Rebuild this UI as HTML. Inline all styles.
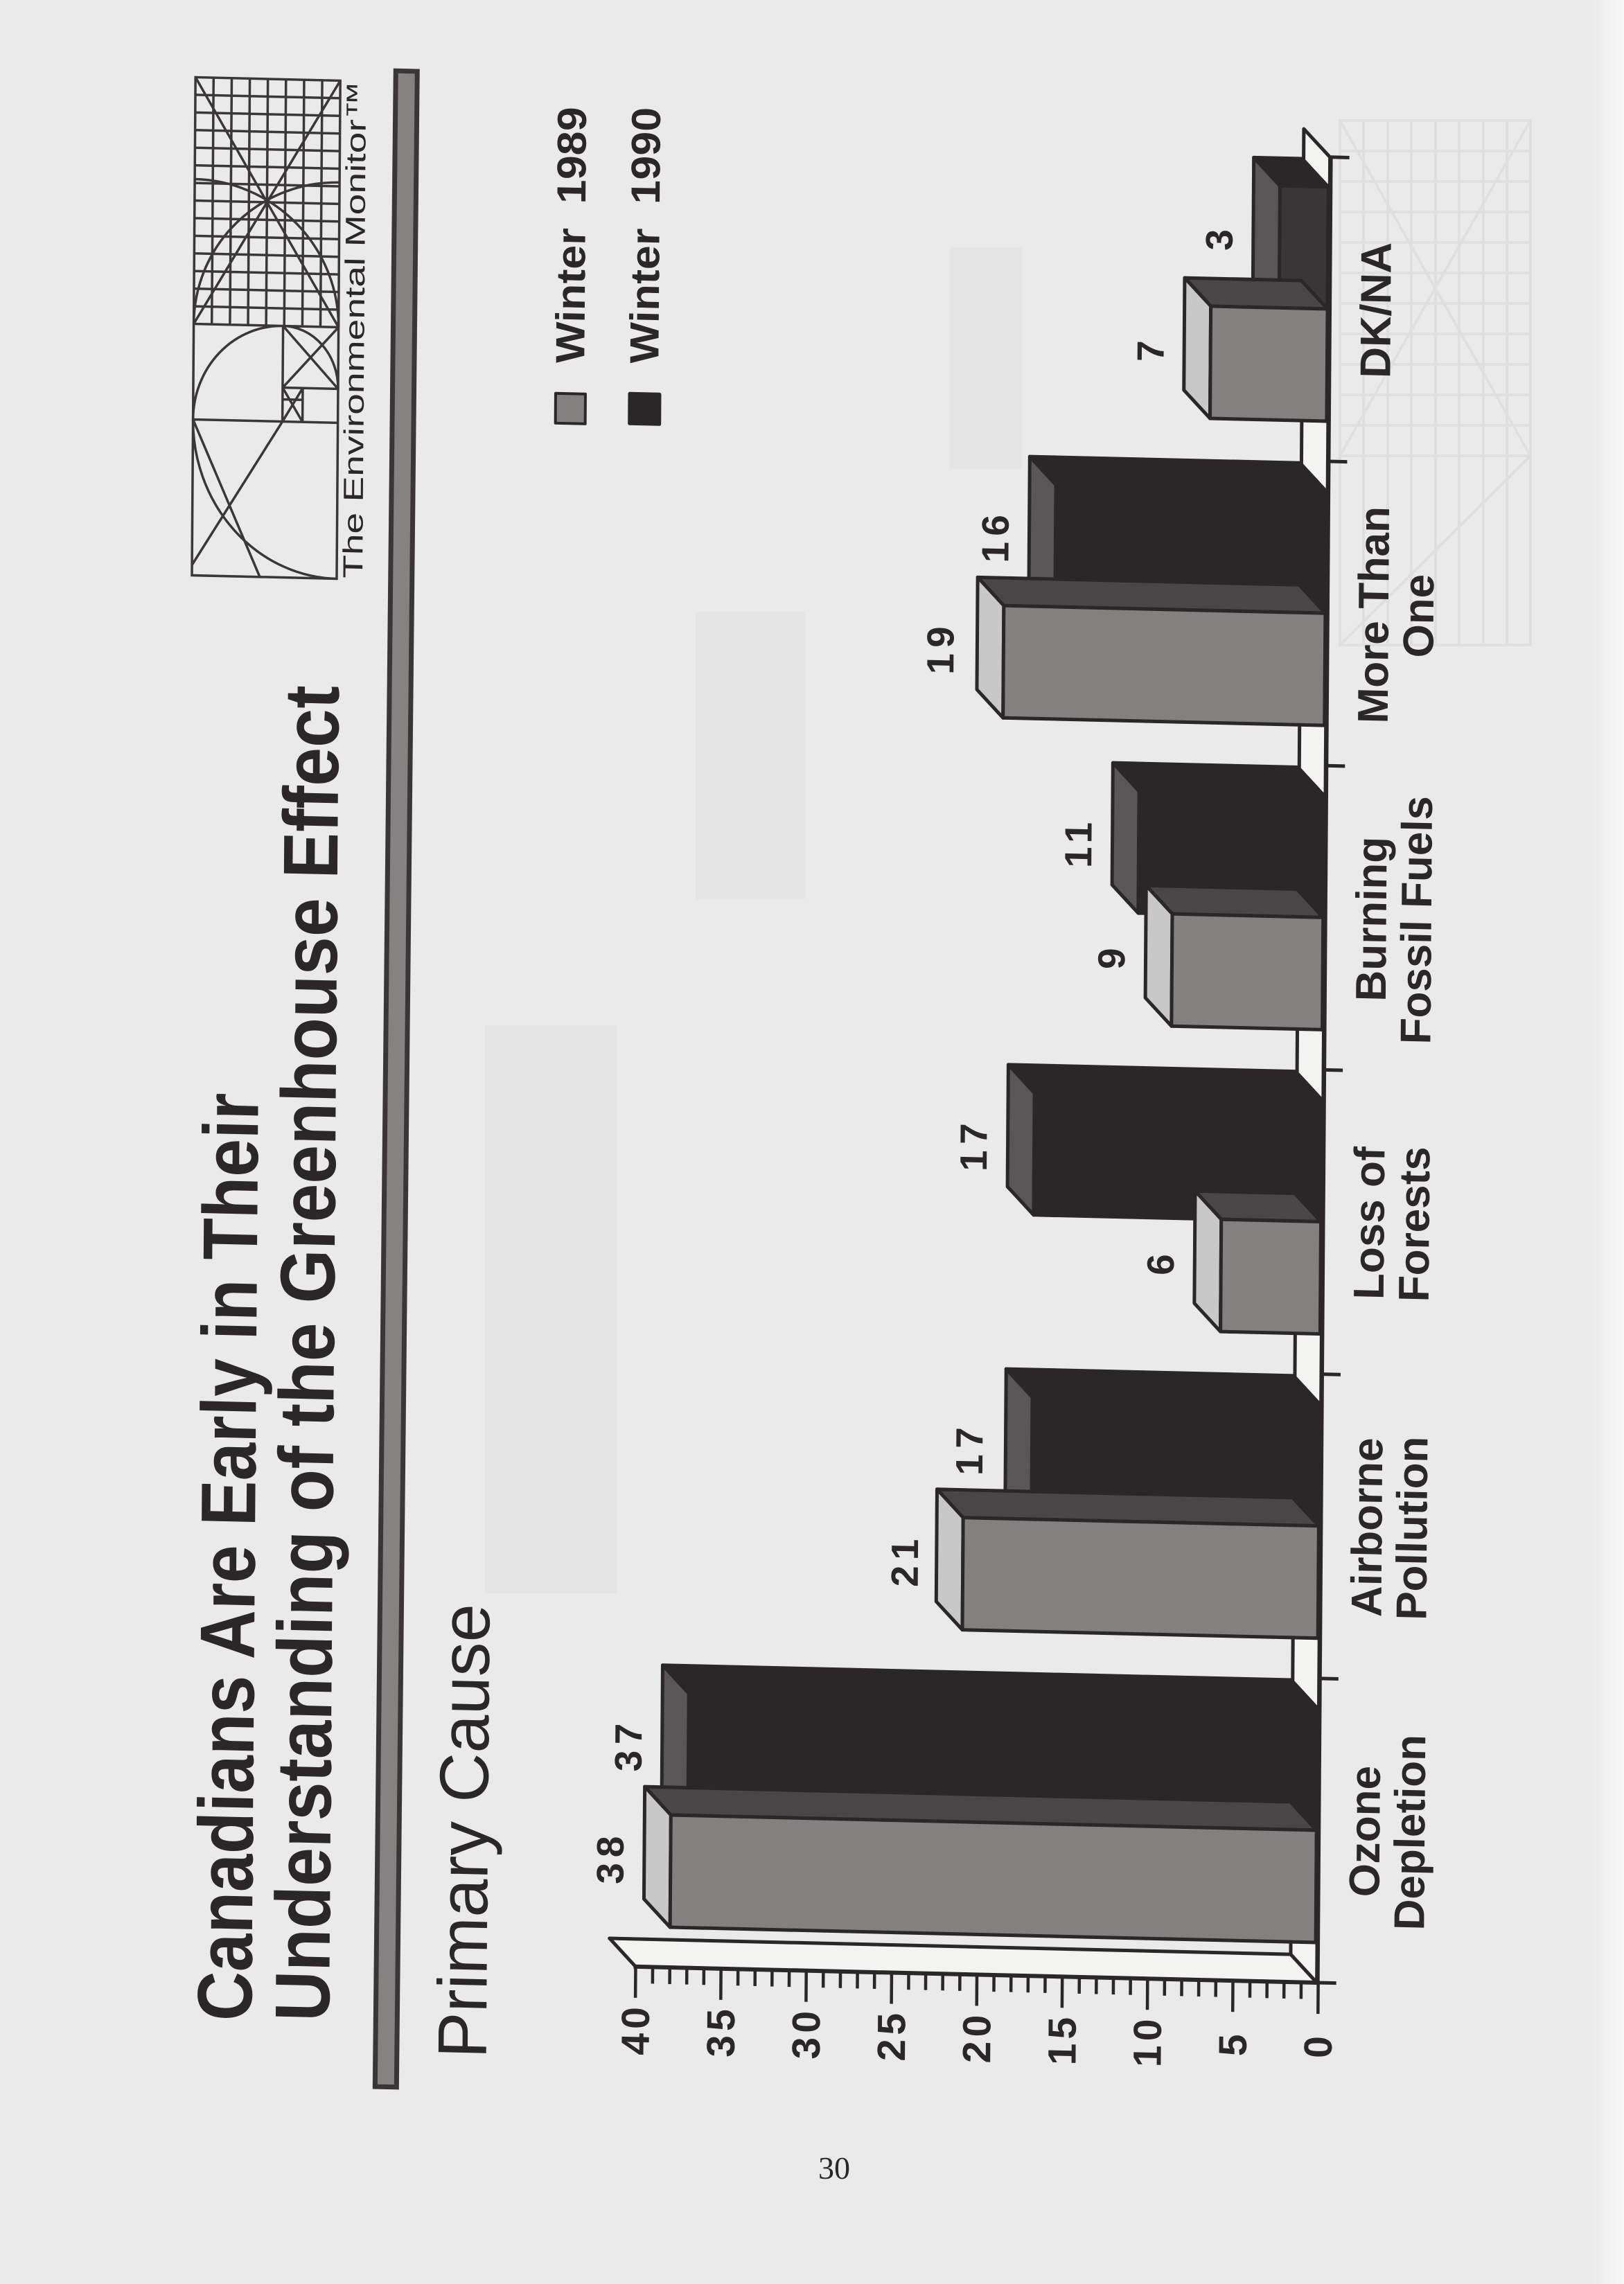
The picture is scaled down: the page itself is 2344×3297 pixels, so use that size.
<!DOCTYPE html>
<html><head><meta charset="utf-8">
<style>
html,body{margin:0;padding:0;background:#e9eae9;}
svg{display:block}
text{font-family:"Liberation Sans",Arial,sans-serif;fill:#2b2627}
.k{fill:#2b2627;stroke:#2b2627;stroke-width:5;stroke-linejoin:round}
.t9{fill:#5a5657;stroke:#2b2627;stroke-width:5;stroke-linejoin:round}
.s8{fill:#4a4647;stroke:#2b2627;stroke-width:5;stroke-linejoin:round}
.t8{fill:#c9c8c8;stroke:#2b2627;stroke-width:5;stroke-linejoin:round}
.f8{fill:#838080;stroke:#2b2627;stroke-width:5;stroke-linejoin:round}
.lg{fill:none;stroke:#3b3637;stroke-width:3.5}
.b{font-weight:bold}
</style></head><body>
<svg width="2344" height="3297" viewBox="0 0 2344 3297" xmlns="http://www.w3.org/2000/svg">
<defs>
<linearGradient id="edge" x1="0" y1="0" x2="1" y2="0">
<stop offset="0" stop-color="#e9eae9"/><stop offset="1" stop-color="#f8f8f8"/>
</linearGradient>
</defs>
<rect x="0" y="0" width="2344" height="3297" fill="#e9eae9"/>
<rect x="2292" y="0" width="52" height="3297" fill="url(#edge)"/>
<!-- faint bleed-through -->
<rect x="700" y="1480" width="190" height="820" fill="#000" opacity="0.025"/>
<rect x="1004" y="883" width="158" height="415" fill="#000" opacity="0.018"/>
<rect x="1370" y="357" width="105" height="320" fill="#000" opacity="0.018"/>
<g stroke="#000" stroke-width="4" fill="none" opacity="0.04">
<rect x="1934" y="174" width="275" height="757"/>
<path d="M1968,174V931M2003,174V931M2037,174V931M2072,174V931M2106,174V931M2141,174V931M2175,174V931
M1934,218H2209M1934,262H2209M1934,306H2209M1934,350H2209M1934,394H2209M1934,438H2209M1934,482H2209M1934,526H2209M1934,570H2209M1934,614H2209M1934,658H2209
M1934,174L2209,658M2209,174L1934,658M1934,931L2209,658"/>
</g>

<g transform="matrix(1 0.0235 -0.0072 1 11.16 -32.9)">
<!-- Title -->
<text class="b" transform="translate(373,2942) rotate(-90)" font-size="112" textLength="1339" lengthAdjust="spacingAndGlyphs">Canadians Are Early in Their</text>
<text class="b" transform="translate(485,2940) rotate(-90)" font-size="112" textLength="1928" lengthAdjust="spacingAndGlyphs">Understanding of the Greenhouse Effect</text>
<polygon points="561,122 592,122 583,3032 552,3032" fill="#858282" stroke="#3a3536" stroke-width="7"/>
<text transform="translate(712,2988) rotate(-90)" font-size="100" textLength="656" lengthAdjust="spacingAndGlyphs">Primary Cause</text>

<!-- Logo -->
<rect x="272" y="138" width="209" height="719" class="lg"/>
<path class="lg" d="M298.1,138V494M324.3,138V494M350.4,138V494M376.5,138V494M402.6,138V494M428.8,138V494M454.9,138V494
M272,163.4H481M272,188.9H481M272,214.3H481M272,239.7H481M272,265.1H481M272,290.6H481M272,316H481M272,341.4H481M272,366.9H481M272,392.3H481M272,417.7H481M272,443.1H481M272,468.6H481M272,494H481
M272,632H481M401,494V632M401,583H481M430,583V632M401,600H430M401,494L481,583M481,494L401,583M401,583L430,632M430,583L401,632
M272,632L370,857M272,842L401,632
M272,632A209,225 0 0 0 481,857M272,632A129,138 0 0 1 401,494A80,89 0 0 1 481,583
M272,494A209,209 0 0 1 481,285M481,494A209,209 0 0 0 272,285M272,494L481,138M272,138L481,494"/>
<text transform="translate(518,856) rotate(-90)" font-size="40" textLength="718" lengthAdjust="spacingAndGlyphs">The Environmental Monitor™</text>

<!-- Legend -->
<rect x="795" y="582" width="43" height="43" class="f8" style="stroke-width:4"/>
<rect x="902" y="580" width="43" height="43" class="k"/>
<text class="b" transform="translate(836,538) rotate(-90)" font-size="59" textLength="370" lengthAdjust="spacingAndGlyphs">Winter&#160;&#160;1989</text>
<text class="b" transform="translate(943,536) rotate(-90)" font-size="59" textLength="370" lengthAdjust="spacingAndGlyphs">Winter&#160;&#160;1990</text>

<!-- Wall and floor -->
<polygon points="926.8,2850 1910,2850 1872,2810 888.8,2810" fill="#f3f3f2" stroke="#2b2627" stroke-width="5" stroke-linejoin="round"/>
<polygon points="1872,175 1910,214.8 1910,2850 1872,2810" fill="#f3f3f2" stroke="#2b2627" stroke-width="5" stroke-linejoin="round"/>

<!-- Bars: Ozone Depletion -->
<polygon class="k" points="1000.7,2454 962.7,2414 1870,2414 1908,2454"/>
<rect class="k" x="1000.7" y="2454" width="907.3" height="176"/>
<polygon class="t9" points="1000.7,2454 962.7,2414 962.7,2590 1000.7,2630"/>
<polygon class="s8" points="976.1,2630 938.1,2590 1870,2590 1908,2630"/>
<polygon class="t8" points="976.1,2630 938.1,2590 938.1,2752 976.1,2792"/>
<rect class="f8" x="976.1" y="2630" width="931.9" height="162"/>
<!-- Airborne Pollution -->
<polygon class="k" points="1493.3,2014.8 1455.3,1974.8 1870,1974.8 1908,2014.8"/>
<rect class="k" x="1493.3" y="2014.8" width="414.7" height="176"/>
<polygon class="t9" points="1493.3,2014.8 1455.3,1974.8 1455.3,2150.8 1493.3,2190.8"/>
<polygon class="s8" points="1394.8,2190.8 1356.8,2150.8 1870,2150.8 1908,2190.8"/>
<polygon class="t8" points="1394.8,2190.8 1356.8,2150.8 1356.8,2312.8 1394.8,2352.8"/>
<rect class="f8" x="1394.8" y="2190.8" width="513.2" height="162"/>
<!-- Loss of Forests -->
<polygon class="k" points="1493.3,1575.6 1455.3,1535.6 1870,1535.6 1908,1575.6"/>
<rect class="k" x="1493.3" y="1575.6" width="414.7" height="176"/>
<polygon class="t9" points="1493.3,1575.6 1455.3,1535.6 1455.3,1711.6 1493.3,1751.6"/>
<polygon class="s8" points="1764.2,1751.6 1726.2,1711.6 1870,1711.6 1908,1751.6"/>
<polygon class="t8" points="1764.2,1751.6 1726.2,1711.6 1726.2,1873.6 1764.2,1913.6"/>
<rect class="f8" x="1764.2" y="1751.6" width="143.8" height="162"/>
<!-- Burning Fossil Fuels -->
<polygon class="k" points="1641.1,1136.4 1603.1,1096.4 1870,1096.4 1908,1136.4"/>
<rect class="k" x="1641.1" y="1136.4" width="266.9" height="176"/>
<polygon class="t9" points="1641.1,1136.4 1603.1,1096.4 1603.1,1272.4 1641.1,1312.4"/>
<polygon class="s8" points="1690.3,1312.4 1652.3,1272.4 1870,1272.4 1908,1312.4"/>
<polygon class="t8" points="1690.3,1312.4 1652.3,1272.4 1652.3,1434.4 1690.3,1474.4"/>
<rect class="f8" x="1690.3" y="1312.4" width="217.7" height="162"/>
<!-- More Than One -->
<polygon class="k" points="1517.9,697.2 1479.9,657.2 1870,657.2 1908,697.2"/>
<rect class="k" x="1517.9" y="697.2" width="390.1" height="176"/>
<polygon class="t9" points="1517.9,697.2 1479.9,657.2 1479.9,833.2 1517.9,873.2"/>
<polygon class="s8" points="1444,873.2 1406,833.2 1870,833.2 1908,873.2"/>
<polygon class="t8" points="1444,873.2 1406,833.2 1406,995.2 1444,1035.2"/>
<rect class="f8" x="1444" y="873.2" width="464" height="162"/>
<!-- DK/NA -->
<polygon class="k" points="1838.1,258 1800.1,218 1870,218 1908,258"/>
<rect class="k" x="1838.1" y="258" width="69.9" height="176" style="fill:#3a3536"/>
<polygon class="t9" points="1838.1,258 1800.1,218 1800.1,394 1838.1,434"/>
<polygon class="s8" points="1739.6,434 1701.6,394 1870,394 1908,434"/>
<polygon class="t8" points="1739.6,434 1701.6,394 1701.6,556 1739.6,596"/>
<rect class="f8" x="1739.6" y="434" width="168.4" height="162"/>

<!-- Axes -->
<path d="M1911,214.8V2853M923.8,2850H1914" stroke="#2b2627" stroke-width="6" fill="none"/>
<path d="M1911,2850H1938M1911,2410.8H1938M1911,1971.6H1938M1911,1532.4H1938M1911,1093.2H1938M1911,654H1938M1911,214.8H1938" stroke="#2b2627" stroke-width="5" fill="none"/>
<path stroke="#2b2627" stroke-width="4.5" fill="none" d="
M1912,2850V2895M1887.4,2850V2874M1862.7,2850V2874M1838.1,2850V2874M1813.5,2850V2874
M1788.9,2850V2895M1764.2,2850V2874M1739.6,2850V2874M1715,2850V2874M1690.3,2850V2874
M1665.7,2850V2895M1641.1,2850V2874M1616.4,2850V2874M1591.8,2850V2874M1567.2,2850V2874
M1542.6,2850V2895M1517.9,2850V2874M1493.3,2850V2874M1468.7,2850V2874M1444,2850V2874
M1419.4,2850V2895M1394.8,2850V2874M1370.1,2850V2874M1345.5,2850V2874M1320.9,2850V2874
M1296.3,2850V2895M1271.6,2850V2874M1247,2850V2874M1222.4,2850V2874M1197.7,2850V2874
M1173.1,2850V2895M1148.5,2850V2874M1123.8,2850V2874M1099.2,2850V2874M1074.6,2850V2874
M1050,2850V2895M1025.3,2850V2874M1000.7,2850V2874M976.1,2850V2874M951.4,2850V2874
M926.8,2850V2895"/>
<g class="b" font-size="57" text-anchor="middle" letter-spacing="6">
<text transform="translate(1932,2940) rotate(-90)">0</text>
<text transform="translate(1808.9,2940) rotate(-90)">5</text>
<text transform="translate(1685.7,2940) rotate(-90)">10</text>
<text transform="translate(1562.6,2940) rotate(-90)">15</text>
<text transform="translate(1439.4,2940) rotate(-90)">20</text>
<text transform="translate(1316.3,2940) rotate(-90)">25</text>
<text transform="translate(1193.1,2940) rotate(-90)">30</text>
<text transform="translate(1070,2940) rotate(-90)">35</text>
<text transform="translate(946.8,2940) rotate(-90)">40</text>
</g>

<!-- Value labels -->
<g class="b" font-size="55" text-anchor="middle" letter-spacing="8">
<text transform="translate(908,2693) rotate(-90)">38</text>
<text transform="translate(933,2530) rotate(-90)">37</text>
<text transform="translate(1330,2254) rotate(-90)">21</text>
<text transform="translate(1422,2091) rotate(-90)">17</text>
<text transform="translate(1696,1815) rotate(-90)">6</text>
<text transform="translate(1425,1652) rotate(-90)">17</text>
<text transform="translate(1622,1375) rotate(-90)">9</text>
<text transform="translate(1573,1212) rotate(-90)">11</text>
<text transform="translate(1372,936) rotate(-90)">19</text>
<text transform="translate(1450,773) rotate(-90)">16</text>
<text transform="translate(1672,497) rotate(-90)">7</text>
<text transform="translate(1770,334) rotate(-90)">3</text>
</g>

<!-- Category labels -->
<g class="b" font-size="62" text-anchor="middle">
<text transform="translate(1999,2630) rotate(-90)">Ozone</text>
<text transform="translate(2064,2630) rotate(-90)">Depletion</text>
<text transform="translate(1999,2191) rotate(-90)">Airborne</text>
<text transform="translate(2064,2191) rotate(-90)">Pollution</text>
<text transform="translate(1999,1752) rotate(-90)">Loss of</text>
<text transform="translate(2064,1752) rotate(-90)">Forests</text>
<text transform="translate(1999,1313) rotate(-90)">Burning</text>
<text transform="translate(2064,1313) rotate(-90)">Fossil Fuels</text>
<text transform="translate(1999,874) rotate(-90)">More Than</text>
<text transform="translate(2064,874) rotate(-90)">One</text>
<text transform="translate(1999,434) rotate(-90)">DK/NA</text>
</g>
</g>

<text x="1204" y="3145" style="font-family:'Liberation Serif',serif" font-size="46" text-anchor="middle" fill="#3a3536">30</text>
</svg>
</body></html>
